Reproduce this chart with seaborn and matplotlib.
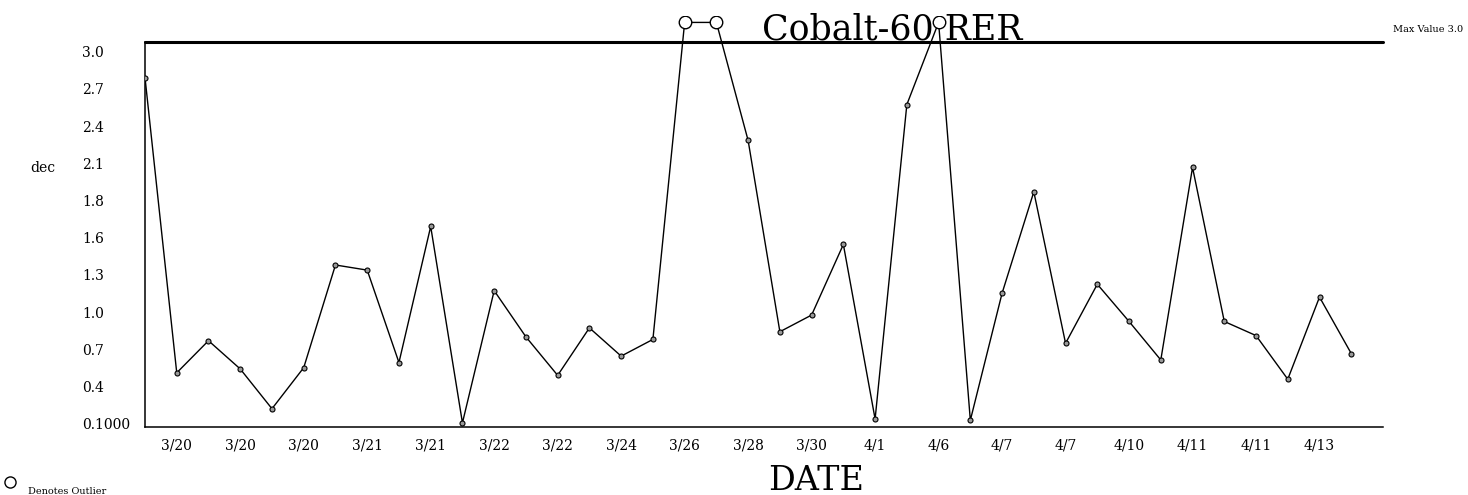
import numpy as np
import pandas as pd
import matplotlib
matplotlib.use("Agg")
import matplotlib.pyplot as plt
import matplotlib.transforms as mtransforms
import seaborn as sns

# ---------------- data ----------------
values = [2.72, 0.42, 0.67, 0.45, 0.14, 0.46, 1.26, 1.22, 0.50, 1.56,
          0.03, 1.06, 0.70, 0.40, 0.77, 0.55, 0.68, 3.15, 3.15, 2.23,
          0.74, 0.87, 1.42, 0.06, 2.51, 3.15, 0.05, 1.04, 1.83, 0.65,
          1.11, 0.82, 0.52, 2.02, 0.82, 0.71, 0.37, 1.01, 0.57]
date_labels = ["3/20", "3/20", "3/20", "3/21", "3/21", "3/22", "3/22", "3/24",
               "3/26", "3/28", "3/30", "4/1", "4/6", "4/7", "4/7", "4/10",
               "4/11", "4/11", "4/13"]
ytick_values = [0.1, 0.39, 0.68, 0.97, 1.26, 1.55, 1.84, 2.13, 2.42, 2.71, 3.0]
ytick_labels = ["0.1000", "0.4", "0.7", "1.0", "1.3", "1.6", "1.8", "2.1",
                "2.4", "2.7", "3.0"]
max_value = 3.0
title = "Cobalt-60 RER"

# ---------------- setup ----------------
sns.set_style("white")
plt.rcParams["font.family"] = ["DejaVu Serif"]
plt.rcParams["text.color"] = "black"

df = pd.DataFrame({"idx": np.arange(len(values)), "value": values})
df["outlier"] = df["value"] > max_value

fig = plt.figure(figsize=(14.68, 4.95), dpi=100)
ax = fig.add_axes([145 / 1468, (495 - 426.7) / 495,
                   (1383 - 145) / 1468, (426.7 - 16.0) / 495])

sns.lineplot(data=df, x="idx", y="value", ax=ax, color="black",
             linewidth=1.0, zorder=2)
normal = df[~df["outlier"]]
outl = df[df["outlier"]]
ax.plot(normal["idx"], normal["value"], linestyle="none", marker="o",
        markersize=3.6, markerfacecolor="#999999", markeredgecolor="black",
        markeredgewidth=0.8, zorder=3)
ax.plot(outl["idx"], outl["value"], linestyle="none", marker="o",
        markersize=9, markerfacecolor="white", markeredgecolor="black",
        markeredgewidth=1.0, zorder=3)

ax.axhline(max_value, color="black", linewidth=2.2, zorder=1, clip_on=False)

ax.set_xlim(0, len(values))
ax.set_ylim(0, 3.2)

# x ticks
n = len(values)
xt = np.arange(1, n)
xl = ["" for _ in xt]
for k, lab in enumerate(date_labels):
    xl[2 * k] = lab
ax.set_xticks(xt)
ax.set_xticklabels(xl, fontsize=10, color="black")
ax.set_yticks(ytick_values)
ax.set_yticklabels(ytick_labels, fontsize=10, color="black")
ax.tick_params(axis="x", direction="inout", length=5, width=1.0, pad=6,
               colors="black")
ax.tick_params(axis="y", direction="inout", length=5, width=1.0, pad=42.8,
               colors="black")
offset = mtransforms.ScaledTranslation(0, -10 / 100, fig.dpi_scale_trans)
for lab in ax.get_yticklabels():
    lab.set_horizontalalignment("left")
    lab.set_transform(lab.get_transform() + offset)

for s in ["top", "right"]:
    ax.spines[s].set_visible(False)
for s in ["left", "bottom"]:
    ax.spines[s].set_color("black")
    ax.spines[s].set_linewidth(1.1)
ax.spines["left"].set_bounds(0, max_value)
ax.set_xlabel("")
ax.set_ylabel("")
ax.grid(False)

# texts
fig.text(892 / 1468, 1 - 40 / 495, title, fontsize=25, ha="center",
         va="baseline", color="black")
fig.text(816 / 1468, 1 - 490 / 495, "DATE", fontsize=24, ha="center",
         va="baseline", color="black")
fig.text(43 / 1468, 1 - 168 / 495, "dec", fontsize=10, ha="center",
         va="center", color="black")
fig.text(1393 / 1468, 1 - 30 / 495, f"Max Value {max_value:.1f}", fontsize=7,
         ha="left", va="center", color="black")
fig.text(28 / 1468, 1 - 491 / 495, "Denotes Outlier", fontsize=7,
         ha="left", va="center", color="black")
fig.lines.append(matplotlib.lines.Line2D([10 / 1468], [1 - 482 / 495],
                                         transform=fig.transFigure,
                                         marker="o", markersize=8,
                                         markerfacecolor="white",
                                         markeredgecolor="black",
                                         markeredgewidth=1.0,
                                         linestyle="none"))

fig.savefig("out.png", dpi=100)
